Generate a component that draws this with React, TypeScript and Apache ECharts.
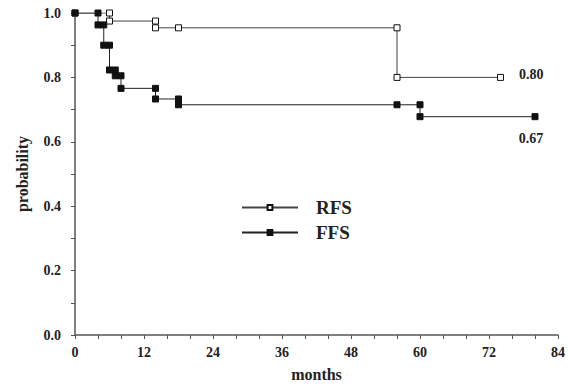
import React, { useEffect, useRef } from "react";
import * as echarts from "echarts";

const seriesNames = ["RFS", "FFS"];
const rfsMonths = [0, 6, 6, 14, 14, 18, 56, 56, 74];
const rfsProb = [1.0, 1.0, 0.975, 0.975, 0.954, 0.954, 0.954, 0.8, 0.8];
const ffsMonths = [0, 4, 4, 5, 5, 6, 6, 7, 7, 8, 8, 14, 14, 18, 18, 56, 60, 60, 80];
const ffsProb = [1.0, 1.0, 0.963, 0.963, 0.9, 0.9, 0.823, 0.823, 0.805, 0.805, 0.766, 0.766, 0.733, 0.733, 0.715, 0.715, 0.715, 0.678, 0.678];
const endLabels = ["0.80", "0.67"];
const xTicks = [0, 12, 24, 36, 48, 60, 72, 84];
const yTicks = [0.0, 0.2, 0.4, 0.6, 0.8, 1.0];

const FONT = "Liberation Serif";

function build(months: number[], prob: number[], label: string, pos: string, offset: number[]) {
  return months.map((m, i) => {
    const item: any = { value: [m, prob[i]] };
    if (i === months.length - 1) {
      item.label = {
        show: true,
        formatter: label,
        position: pos,
        offset,
        color: "#222",
        fontFamily: FONT,
        fontWeight: "bold",
        fontSize: 14,
      };
    }
    return item;
  });
}

export default function App() {
  const ref = useRef<HTMLDivElement>(null);
  useEffect(() => {
    const chart = echarts.init(ref.current!, null, { renderer: "svg" });
    const axisCol = "#555";
    chart.setOption({
      animation: false,
      backgroundColor: "#fff",
      grid: { left: 75, right: 8, top: 13, bottom: 48 },
      legend: {
        orient: "vertical",
        left: 241,
        top: 198,
        padding: 0,
        itemWidth: 56,
        itemHeight: 6,
        itemGap: 6,
        data: seriesNames,
        textStyle: {
          fontFamily: FONT,
          fontWeight: "bold",
          fontSize: 19,
          lineHeight: 19,
          color: "#222",
          padding: [0, 0, 0, 13],
        },
      },
      xAxis: {
        type: "value",
        min: 0,
        max: 84,
        interval: 4,
        name: "months",
        nameLocation: "middle",
        nameGap: 31,
        nameTextStyle: { fontFamily: FONT, fontWeight: "bold", fontSize: 16, color: "#222" },
        axisLine: { lineStyle: { color: axisCol, width: 1.5 } },
        axisTick: { length: 4, lineStyle: { color: axisCol } },
        splitLine: { show: false },
        axisLabel: {
          margin: 10,
          fontFamily: FONT,
          fontWeight: "bold",
          fontSize: 14,
          color: "#222",
          formatter: (v: number) => (xTicks.indexOf(v) >= 0 ? String(v) : ""),
        },
      },
      yAxis: {
        type: "value",
        min: 0,
        max: 1,
        interval: 0.1,
        name: "probability",
        nameLocation: "middle",
        nameGap: 45,
        nameTextStyle: { fontFamily: FONT, fontWeight: "bold", fontSize: 16, color: "#222" },
        axisLine: { show: true, lineStyle: { color: axisCol, width: 1.5 } },
        axisTick: { show: true, length: 4, lineStyle: { color: axisCol } },
        splitLine: { show: false },
        axisLabel: {
          margin: 14,
          fontFamily: FONT,
          fontWeight: "bold",
          fontSize: 14,
          color: "#222",
          formatter: (v: number) => {
            const r = Math.round(v * 10) / 10;
            return yTicks.some((t) => Math.abs(t - r) < 1e-6) ? r.toFixed(1) : "";
          },
        },
      },
      series: [
        {
          name: seriesNames[0],
          type: "line",
          data: build(rfsMonths, rfsProb, endLabels[0], "right", [10, -3]),
          symbol: "rect",
          symbolSize: 6,
          showAllSymbol: true,
          lineStyle: { color: "#444", width: 1 },
          itemStyle: { color: "#fff", borderColor: "#111", borderWidth: 1 },
          z: 2,
        },
        {
          name: seriesNames[1],
          type: "line",
          data: build(ffsMonths, ffsProb, endLabels[1], "bottom", [-4, 6]),
          symbol: "rect",
          symbolSize: 6,
          showAllSymbol: true,
          lineStyle: { color: "#222", width: 1 },
          itemStyle: { color: "#111", borderColor: "#111", borderWidth: 1 },
          z: 3,
        },
      ],
    });
    return () => chart.dispose();
  }, []);
  return <div ref={ref} style={{ width: 568, height: 387, position: "absolute", left: 0, top: 0 }} />;
}
